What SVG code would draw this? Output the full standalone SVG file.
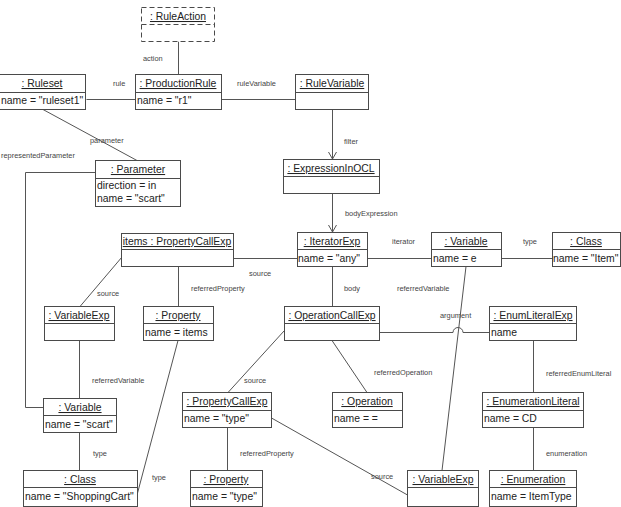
<svg xmlns="http://www.w3.org/2000/svg" width="621" height="507" viewBox="0 0 621 507">
<style>
.box{fill:#fff;stroke:#4a4a4a;stroke-width:1}
.dash{fill:#fff;stroke:#4a4a4a;stroke-width:1;stroke-dasharray:5,3}
.div{stroke:#4a4a4a;stroke-width:1}
.ddiv{stroke:#4a4a4a;stroke-width:1;stroke-dasharray:5,3}
.t{font-family:"Liberation Sans",Arial,sans-serif;font-size:10.4px;fill:#222;text-anchor:middle;text-decoration:underline}
.a{font-family:"Liberation Sans",Arial,sans-serif;font-size:10.4px;fill:#222}
.l{font-family:"Liberation Sans",Arial,sans-serif;font-size:7.4px;fill:#444}
.c{fill:none;stroke:#555;stroke-width:1}
</style>
<defs>
<marker id="arr" markerWidth="10" markerHeight="10" refX="8" refY="5" orient="auto" markerUnits="userSpaceOnUse">
<path d="M1,1 L8,5 L1,9" fill="none" stroke="#555" stroke-width="1"/>
</marker>
</defs>
<rect width="621" height="507" fill="#fff"/>
<g id="connectors">
<path class="c" d="M86.5,99.5 H135.5"/>
<path class="c" d="M221.5,99.5 H295.5"/>
<path class="c" d="M178.5,41.5 V74.5"/>
<path class="c" d="M332.5,109.5 V159" marker-end="url(#arr)"/>
<path class="c" d="M43,109.5 L137,160.5"/>
<path class="c" d="M95.5,172.5 H25.5 V407.5 H43.5"/>
<path class="c" d="M332.5,193.5 V232" marker-end="url(#arr)"/>
<path class="c" d="M233.5,258.5 H297.5"/>
<path class="c" d="M367.5,258.5 H431.5"/>
<path class="c" d="M501.5,258.5 H552.5"/>
<path class="c" d="M332.5,266.5 V306.5"/>
<path class="c" d="M122,257 L80,306.5"/>
<path class="c" d="M178.5,266.5 V306.5"/>
<path class="c" d="M466,266.5 L442,470.5"/>
<path class="c" d="M379.5,332.5 H453 A5,5 0 0 1 463,332.5 H489.5"/>
<path class="c" d="M79.5,340.5 V398.5"/>
<path class="c" d="M79.5,432.5 V470.5"/>
<path class="c" d="M178,340.5 L137,495"/>
<path class="c" d="M284,331 L228,392.5"/>
<path class="c" d="M332,340.5 L367,392.5"/>
<path class="c" d="M227.5,427.5 V470.5"/>
<path class="c" d="M271.5,418 L407.5,495"/>
<path class="c" d="M533.5,340.5 V392.5"/>
<path class="c" d="M533.5,427.5 V470.5"/>
</g>
<g id="labels">
<text class="l" x="113" y="86">rule</text>
<text class="l" x="237" y="86">ruleVariable</text>
<text class="l" x="143" y="61">action</text>
<text class="l" x="344" y="144">filter</text>
<text class="l" x="90" y="143">parameter</text>
<text class="l" x="1" y="158">representedParameter</text>
<text class="l" x="345" y="216">bodyExpression</text>
<text class="l" x="249" y="276">source</text>
<text class="l" x="392" y="244">iterator</text>
<text class="l" x="523" y="244">type</text>
<text class="l" x="344" y="291">body</text>
<text class="l" x="191" y="291">referredProperty</text>
<text class="l" x="97" y="296">source</text>
<text class="l" x="397" y="291">referredVariable</text>
<text class="l" x="440" y="318">argument</text>
<text class="l" x="92" y="383">referredVariable</text>
<text class="l" x="93" y="456">type</text>
<text class="l" x="152" y="480">type</text>
<text class="l" x="244" y="383">source</text>
<text class="l" x="374" y="375">referredOperation</text>
<text class="l" x="240" y="456">referredProperty</text>
<text class="l" x="371" y="479">source</text>
<text class="l" x="546" y="376">referredEnumLiteral</text>
<text class="l" x="546" y="456">enumeration</text>
</g>
<g id="RuleAction">
<rect class="dash" x="141.5" y="7.5" width="73" height="34"/>
<line class="ddiv" x1="141.5" y1="24.5" x2="214.5" y2="24.5"/>
<text class="t" x="178" y="20">: RuleAction</text>
</g>
<g id="Ruleset">
<rect class="box" x="-0.5" y="74.5" width="86" height="35"/>
<line class="div" x1="0" y1="92.5" x2="85.5" y2="92.5"/>
<text class="t" x="42" y="87">: Ruleset</text>
<text class="a" x="1" y="104">name = "ruleset1"</text>
</g>
<g id="ProductionRule">
<rect class="box" x="135.5" y="74.5" width="86" height="35"/>
<line class="div" x1="135.5" y1="92.5" x2="221.5" y2="92.5"/>
<text class="t" x="178" y="87">: ProductionRule</text>
<text class="a" x="137" y="104">name = "r1"</text>
</g>
<g id="RuleVariable">
<rect class="box" x="295.5" y="74.5" width="73" height="35"/>
<line class="div" x1="295.5" y1="92.5" x2="368.5" y2="92.5"/>
<text class="t" x="332" y="87">: RuleVariable</text>
</g>
<g id="ExpressionInOCL">
<rect class="box" x="283.5" y="159.5" width="96" height="34"/>
<line class="div" x1="283.5" y1="176.5" x2="379.5" y2="176.5"/>
<text class="t" x="331" y="172">: ExpressionInOCL</text>
</g>
<g id="Parameter">
<rect class="box" x="95.5" y="160.5" width="85" height="46"/>
<line class="div" x1="95.5" y1="178.5" x2="180.5" y2="178.5"/>
<text class="t" x="138" y="173">: Parameter</text>
<text class="a" x="97" y="189">direction = in</text>
<text class="a" x="97" y="202">name = "scart"</text>
</g>
<g id="ItemsPropertyCallExp">
<rect class="box" x="121.5" y="233.5" width="112" height="33"/>
<line class="div" x1="121.5" y1="249.5" x2="233.5" y2="249.5"/>
<text class="t" x="177" y="245">items : PropertyCallExp</text>
</g>
<g id="IteratorExp">
<rect class="box" x="297.5" y="232.5" width="70" height="34"/>
<line class="div" x1="297.5" y1="249.5" x2="367.5" y2="249.5"/>
<text class="t" x="332" y="245">: IteratorExp</text>
<text class="a" x="298" y="262">name = "any"</text>
</g>
<g id="VariableE">
<rect class="box" x="431.5" y="232.5" width="70" height="34"/>
<line class="div" x1="431.5" y1="249.5" x2="501.5" y2="249.5"/>
<text class="t" x="466" y="245">: Variable</text>
<text class="a" x="433" y="262">name = e</text>
</g>
<g id="ClassItem">
<rect class="box" x="552.5" y="232.5" width="68" height="34"/>
<line class="div" x1="552.5" y1="249.5" x2="620.5" y2="249.5"/>
<text class="t" x="586" y="245">: Class</text>
<text class="a" x="553" y="262">name = "Item"</text>
</g>
<g id="VariableExpLeft">
<rect class="box" x="44.5" y="306.5" width="70" height="34"/>
<line class="div" x1="44.5" y1="323.5" x2="114.5" y2="323.5"/>
<text class="t" x="79" y="319">: VariableExp</text>
</g>
<g id="PropertyItems">
<rect class="box" x="143.5" y="306.5" width="70" height="34"/>
<line class="div" x1="143.5" y1="323.5" x2="213.5" y2="323.5"/>
<text class="t" x="178" y="319">: Property</text>
<text class="a" x="145" y="336">name = items</text>
</g>
<g id="OperationCallExp">
<rect class="box" x="284.5" y="306.5" width="95" height="34"/>
<line class="div" x1="284.5" y1="323.5" x2="379.5" y2="323.5"/>
<text class="t" x="332" y="319">: OperationCallExp</text>
</g>
<g id="EnumLiteralExp">
<rect class="box" x="489.5" y="306.5" width="87" height="34"/>
<line class="div" x1="489.5" y1="323.5" x2="576.5" y2="323.5"/>
<text class="t" x="533" y="319">: EnumLiteralExp</text>
<text class="a" x="491" y="336">name</text>
</g>
<g id="VariableScart">
<rect class="box" x="43.5" y="398.5" width="73" height="34"/>
<line class="div" x1="43.5" y1="415.5" x2="116.5" y2="415.5"/>
<text class="t" x="80" y="411">: Variable</text>
<text class="a" x="45" y="428">name = "scart"</text>
</g>
<g id="PropertyCallExpType">
<rect class="box" x="182.5" y="392.5" width="89" height="35"/>
<line class="div" x1="182.5" y1="410.5" x2="271.5" y2="410.5"/>
<text class="t" x="227" y="405">: PropertyCallExp</text>
<text class="a" x="184" y="422">name = "type"</text>
</g>
<g id="Operation">
<rect class="box" x="332.5" y="392.5" width="70" height="35"/>
<line class="div" x1="332.5" y1="410.5" x2="402.5" y2="410.5"/>
<text class="t" x="367" y="405">: Operation</text>
<text class="a" x="334" y="422">name = =</text>
</g>
<g id="EnumerationLiteral">
<rect class="box" x="482.5" y="392.5" width="101" height="35"/>
<line class="div" x1="482.5" y1="410.5" x2="583.5" y2="410.5"/>
<text class="t" x="533" y="405">: EnumerationLiteral</text>
<text class="a" x="484" y="422">name = CD</text>
</g>
<g id="ClassShoppingCart">
<rect class="box" x="23.5" y="470.5" width="114" height="36"/>
<line class="div" x1="23.5" y1="487.5" x2="137.5" y2="487.5"/>
<text class="t" x="80" y="483">: Class</text>
<text class="a" x="25" y="500">name = "ShoppingCart"</text>
</g>
<g id="PropertyType">
<rect class="box" x="190.5" y="470.5" width="72" height="36"/>
<line class="div" x1="190.5" y1="487.5" x2="262.5" y2="487.5"/>
<text class="t" x="226" y="483">: Property</text>
<text class="a" x="192" y="500">name = "type"</text>
</g>
<g id="VariableExpRight">
<rect class="box" x="407.5" y="470.5" width="71" height="36"/>
<line class="div" x1="407.5" y1="487.5" x2="478.5" y2="487.5"/>
<text class="t" x="443" y="483">: VariableExp</text>
</g>
<g id="Enumeration">
<rect class="box" x="489.5" y="470.5" width="87" height="36"/>
<line class="div" x1="489.5" y1="487.5" x2="576.5" y2="487.5"/>
<text class="t" x="533" y="483">: Enumeration</text>
<text class="a" x="491" y="500">name = ItemType</text>
</g>
</svg>
